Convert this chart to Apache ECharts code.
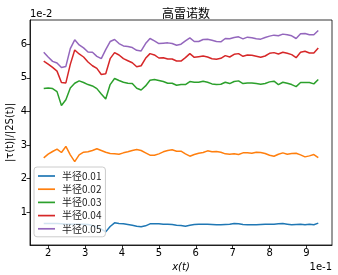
<!DOCTYPE html>
<html>
<head>
<meta charset="utf-8">
<script src="https://cdn.jsdelivr.net/npm/echarts@6/dist/echarts.min.js"></script>
<style>html,body{margin:0;padding:0;background:#fff}#c{width:338px;height:275px}</style>
</head>
<body>
<div id="c"></div>
<script>
// x positions (units of 1e-1)
const xVals = [1.88,2.00,2.12,2.24,2.36,2.48,2.60,2.72,2.84,2.96,3.08,3.20,3.32,3.44,3.56,3.68,3.80,3.92,4.04,4.16,4.28,4.40,4.52,4.64,4.76,4.88,5.00,5.12,5.24,5.36,5.48,5.60,5.72,5.84,5.96,6.08,6.20,6.32,6.44,6.56,6.68,6.80,6.92,7.04,7.16,7.28,7.40,7.52,7.64,7.76,7.88,8.00,8.12,8.24,8.36,8.48,8.60,8.72,8.84,8.96,9.08,9.20,9.32];
// values (units of 1e-2)
const r001 = [0.67,0.67,0.67,0.67,0.66,0.65,0.65,0.65,0.65,0.65,0.64,0.61,0.57,0.50,0.42,0.58,0.69,0.67,0.66,0.64,0.62,0.59,0.57,0.60,0.66,0.66,0.66,0.65,0.65,0.64,0.62,0.61,0.59,0.62,0.64,0.65,0.65,0.65,0.64,0.63,0.63,0.64,0.65,0.67,0.66,0.64,0.63,0.63,0.63,0.64,0.65,0.65,0.65,0.66,0.67,0.65,0.63,0.64,0.65,0.63,0.65,0.63,0.68];
const r002 = [2.62,2.73,2.81,2.88,2.78,2.96,2.71,2.51,2.71,2.79,2.80,2.84,2.89,2.84,2.79,2.75,2.74,2.73,2.77,2.80,2.84,2.87,2.84,2.77,2.70,2.70,2.74,2.80,2.84,2.86,2.82,2.82,2.74,2.67,2.72,2.76,2.78,2.83,2.80,2.81,2.79,2.74,2.73,2.74,2.72,2.77,2.77,2.76,2.79,2.78,2.75,2.70,2.67,2.73,2.77,2.73,2.75,2.76,2.71,2.65,2.68,2.72,2.63];
const r003 = [4.68,4.70,4.68,4.59,4.18,4.35,4.70,4.84,4.91,4.86,4.80,4.76,4.68,4.52,4.37,4.80,4.98,4.92,4.87,4.84,4.83,4.69,4.64,4.76,4.93,4.95,4.92,4.89,4.84,4.84,4.78,4.80,4.80,4.89,4.87,4.87,4.90,4.87,4.82,4.80,4.81,4.87,4.83,4.89,4.91,4.83,4.85,4.85,4.83,4.81,4.83,4.88,4.90,4.80,4.87,4.84,4.80,4.74,4.86,4.86,4.86,4.82,4.95];
const r004 = [5.50,5.41,5.31,5.20,4.86,4.85,5.40,5.83,5.71,5.62,5.47,5.36,5.28,5.10,5.12,5.57,5.75,5.68,5.57,5.51,5.45,5.33,5.36,5.58,5.72,5.68,5.59,5.60,5.56,5.56,5.50,5.50,5.60,5.72,5.61,5.63,5.65,5.62,5.57,5.55,5.58,5.66,5.62,5.70,5.72,5.64,5.68,5.67,5.64,5.61,5.65,5.73,5.75,5.71,5.76,5.73,5.69,5.60,5.76,5.79,5.74,5.74,5.89];
const r005 = [5.76,5.62,5.49,5.44,5.31,5.34,5.87,6.13,5.98,5.89,5.77,5.76,5.64,5.57,5.84,6.08,6.14,6.02,5.95,5.93,5.90,5.82,5.80,6.02,6.17,6.10,6.02,6.03,6.04,6.02,5.97,6.00,6.10,6.19,6.08,6.08,6.14,6.15,6.12,6.08,6.07,6.17,6.16,6.20,6.22,6.16,6.21,6.19,6.16,6.15,6.20,6.24,6.27,6.25,6.30,6.28,6.25,6.17,6.31,6.32,6.28,6.28,6.41];
const seriesNames = ['半径0.01','半径0.02','半径0.03','半径0.04','半径0.05'];
const seriesData = [r001, r002, r003, r004, r005];
const xTicks = [2,3,4,5,6,7,8,9];
const yTicks = [1,2,3,4,5,6];
const colors = ['#1f77b4','#ff7f0e','#2ca02c','#d62728','#9467bd'];

const FONT = '"DejaVu Sans", "Noto Sans CJK SC", sans-serif';
const chart = echarts.init(document.getElementById('c'), null, {renderer: 'canvas'});
chart.setOption({
  animation: false,
  backgroundColor: '#fff',
  title: {
    text: '高雷诺数', left: 181, top: 2, textAlign: 'center',
    textStyle: {fontFamily: '"Noto Sans CJK SC", sans-serif', fontSize: 12, fontWeight: 'normal', color: '#000'}
  },
  grid: {left: 30, right: 6, top: 20, bottom: 30, outerBoundsMode: 'none', containLabel: false,
         show: true, borderColor: '#000', borderWidth: 0.8},
  legend: {
    orient: 'vertical', left: 34, top: 167,
    data: seriesNames,
    itemWidth: 17, itemHeight: 8, itemGap: 3.2,
    icon: 'path://M0,0 L10,0 L10,1 L0,1 Z',
    backgroundColor: 'rgba(255,255,255,0.8)', borderColor: '#ccc', borderWidth: 1, borderRadius: 3,
    padding: [4, 4, 3, 4],
    textStyle: {fontFamily: '"Noto Sans CJK SC", sans-serif', fontSize: 10, color: '#222', padding: [0,0,0,2]}
  },
  xAxis: {
    type: 'value', min: 1.508, max: 9.692,
    name: 'x(t)', nameLocation: 'middle', nameGap: 17, nameMoveOverlap: false,
    nameTextStyle: {fontFamily: FONT, fontSize: 10, fontStyle: 'italic', color: '#000'},
    axisLine: {show: true, onZero: false, lineStyle: {color: '#000', width: 0.8}},
    axisTick: {show: true, length: 3.5, lineStyle: {color: '#000', width: 0.8}, customValues: xTicks},
    axisLabel: {fontFamily: FONT, fontSize: 10, color: '#000', margin: 3, customValues: xTicks, formatter: v => String(v)},
    splitLine: {show: false}
  },
  yAxis: {
    type: 'value', min: 0.03, max: 6.72,
    name: '|τ(t)|/|2S(t)|', nameLocation: 'middle', nameGap: 15, nameMoveOverlap: false,
    nameTextStyle: {fontFamily: FONT, fontSize: 10, color: '#000'},
    axisLine: {show: true, onZero: false, lineStyle: {color: '#000', width: 0.8}},
    axisTick: {show: true, length: 3.5, lineStyle: {color: '#000', width: 0.8}, customValues: yTicks},
    axisLabel: {fontFamily: FONT, fontSize: 10, color: '#000', margin: 3, customValues: yTicks, formatter: v => String(v)},
    splitLine: {show: false}
  },
  graphic: [
    {type: 'text', left: 30, top: 9, style: {text: '1e-2', fontFamily: FONT, fontSize: 10, fill: '#000'}},
    {type: 'text', right: 6, top: 262, style: {text: '1e-1', fontFamily: FONT, fontSize: 10, fill: '#000'}}
  ],
  series: seriesNames.map((n, k) => ({
    name: n, type: 'line', showSymbol: false, symbol: 'none',
    data: xVals.map((x, i) => [x, seriesData[k][i]]),
    lineStyle: {width: 1.5, color: colors[k]}, itemStyle: {color: colors[k]}
  }))
});
</script>
</body>
</html>
